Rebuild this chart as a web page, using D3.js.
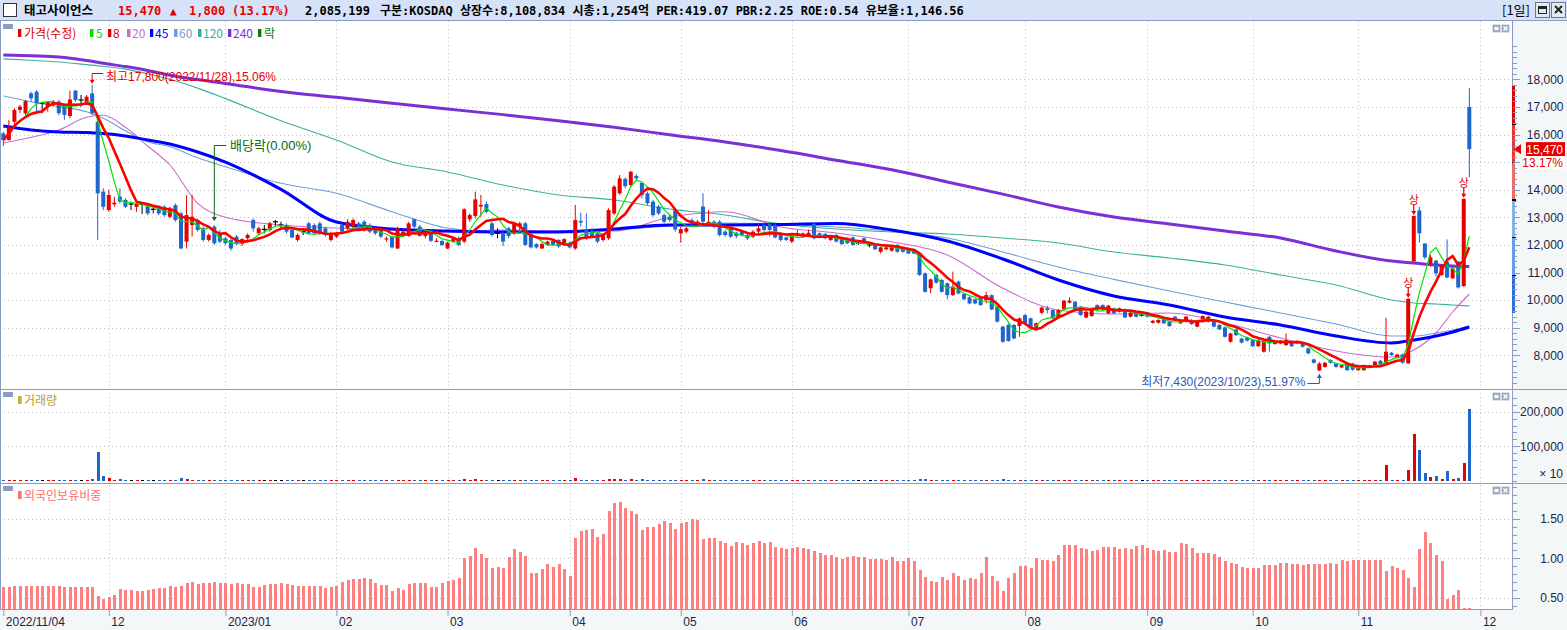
<!DOCTYPE html>
<html>
<head>
<meta charset="utf-8">
<title>태고사이언스</title>
<script src="https://cdn.jsdelivr.net/npm/d3@7"></script>
<style>
  html, body { margin: 0; padding: 0; background: #fff; }
  svg { display: block; }
</style>
</head>
<body>
<div id="chart"></div>
<script>
(function () {
  'use strict';

  // ---- data ----
  var monthIdx = [0, 19, 40, 60, 80, 102, 122, 142, 163, 184, 206, 225, 244, 266];
  var monthLabels = ['2022/11/04', '12', '2023/01', '02', '03', '04', '05', '06', '07', '08', '09', '10', '11', '12'];
  var priceTicks = [8000, 9000, 10000, 11000, 12000, 13000, 14000, 15000, 16000, 17000, 18000];
  var volTicks = [100000, 200000];
  var fgnTicks = [0.5, 1.0, 1.5];

  var opens = [
    16040,15800,16460,16890,16770,17490,17550,17130,17010,17070,17190,17070,16670,17590,17250,17130,17490,16460,13930,13260,
    13470,13750,13630,13480,13380,13470,13440,13290,13380,13380,13020,13440,13140,12120,12720,12900,12600,12180,12660,12420,
    12240,12180,12300,12030,12240,12900,12420,12560,12540,12840,12720,12720,12540,12180,12480,12780,12720,12780,12600,12180,
    12300,12720,12600,12660,12780,12840,12720,12600,12540,12200,12300,11870,12360,12320,12930,12660,12320,12520,12120,12140,
    11870,12120,12240,12120,12930,13050,13390,13480,12780,12420,12420,12600,12420,12660,12780,12390,12030,11870,12000,12140,
    12180,12030,12080,11870,12870,12540,12520,12420,12180,12240,13140,13870,14390,14170,14500,14250,13870,13570,13390,13080,
    13020,13260,12420,12480,12900,12780,13390,12720,12840,12840,12480,12600,12440,12480,12360,12300,12480,12720,12760,12720,
    12400,12270,12120,12320,12420,12320,12760,12420,12400,12180,12360,12240,12240,12270,12060,12240,12000,12000,11750,11840,
    11790,12000,11910,11870,11840,11690,10970,10430,10910,10730,10610,10180,10670,10220,10100,10030,10100,10000,10180,9760,
    9040,9100,9100,9060,9460,9340,8980,9540,9700,9640,9370,9660,9910,9940,9760,9370,9420,9820,9820,9520,
    9700,9580,9660,9400,9580,9460,9540,9180,9180,9340,9220,9400,9160,9220,9280,9040,9220,9220,9280,9100,
    9010,8490,8940,8610,8650,8550,8330,8130,8670,8410,8430,8370,8460,8430,8460,8250,7850,7450,7580,7830,
    7710,7560,7730,7700,7460,7460,7600,7650,7800,7710,8090,7920,8030,7710,11400,13250,12050,11330,11430,10910,
    11390,10790,11390,10510,17000
  ];
  var highs = [
    16100,16520,16950,17070,17250,17550,17610,17190,17210,17250,17250,17100,17590,17610,17430,17430,17800,16700,14050,13990,
    13750,14050,13690,13530,13570,13530,13500,13380,13440,13440,13380,13500,13200,13800,13810,12960,12660,12420,12720,12540,
    12300,12240,12360,12240,12420,12960,12660,12720,12840,12900,12840,12780,12600,12420,12540,12840,12780,12840,12660,12480,
    12480,12780,12930,12960,12840,12900,12780,12660,12600,12300,12330,12660,12540,12840,12960,12720,12540,12560,12240,12180,
    12120,12300,12300,13330,13140,13930,13810,13570,12840,12600,12480,12660,12840,12840,12840,12420,12060,12080,12150,12180,
    12210,12240,12120,13450,13170,13140,12600,12480,12420,13330,14170,14530,14450,14680,14560,14250,13930,13630,13450,13140,
    13080,13330,12660,12660,12960,12900,13870,13260,12900,12900,12540,12660,12480,12540,12420,12540,12720,12780,12800,12780,
    12420,12300,12360,12540,12450,12560,12800,12450,12420,12360,12390,12270,12270,12300,12100,12270,12090,12030,11940,11940,
    12000,12030,11940,11910,11870,11720,11000,10780,10940,10760,10640,11030,10700,10250,10130,10060,10130,10300,10210,9790,
    9070,9160,9130,9370,9490,9370,9190,9760,9790,9670,9670,10000,10100,9970,9790,9610,9730,9850,9850,9830,
    9730,9730,9700,9580,9610,9520,9570,9280,9310,9370,9250,9430,9310,9430,9310,9250,9450,9430,9310,9130,
    9040,8820,8970,8640,8680,8580,8580,8560,8700,8520,8560,8790,8490,8520,8490,8280,7880,7760,7760,7860,
    7740,7670,7760,7730,7590,7670,7650,7800,7830,9360,8120,8060,8060,10050,13050,13380,12060,11640,11460,11300,
    12200,11200,11420,13670,17680
  ];
  var lows = [
    15580,15780,16260,16770,16700,17190,16830,16770,16830,17010,16700,16530,16590,17190,17010,17070,16700,12180,13260,13200,
    13380,13500,13330,13260,13200,13120,13080,13140,13080,13020,12960,12840,11850,11870,12300,12480,12120,12120,12000,12060,
    12000,11790,12000,11960,12180,12480,12360,12420,12480,12660,12600,12420,12240,12120,12360,12360,12360,12360,12300,12120,
    12240,12420,12540,12600,12480,12480,12420,12360,12240,12120,11870,11850,12300,12300,12600,12300,12240,12100,12100,11960,
    11850,12080,11960,12060,12840,12960,13020,13140,12300,12240,11960,12240,12360,12540,11960,11870,11870,11850,11960,11960,
    11900,12000,11870,11820,12660,12180,12240,12060,12120,12180,13080,13810,14050,14110,14350,13690,13450,13020,13080,12780,
    12840,12480,12080,12420,12720,12720,12720,12660,12600,12300,12300,12240,12240,12300,12180,12240,12420,12480,12300,12240,
    12120,12140,12060,12300,12270,12300,12200,12240,12200,12140,12090,12000,12030,11970,12000,12030,11910,11810,11690,11810,
    11750,11720,11720,11660,11660,10880,10270,10250,10600,10270,10030,10150,10210,10000,9850,9850,9790,9880,9630,9190,
    8460,8490,8580,8670,9130,8980,8950,9490,9520,9310,9340,9640,9880,9630,9430,9340,9400,9630,9630,9490,
    9490,9550,9340,9370,9370,9400,9370,9150,9150,9130,9030,9250,9130,9190,9100,9010,9190,9190,9010,8910,
    8640,8460,8700,8430,8500,8300,8300,8100,8130,8380,8400,8340,8300,8400,8280,8040,7700,7430,7550,7700,
    7550,7530,7440,7440,7440,7440,7570,7620,7650,7680,7980,7890,7700,7680,11400,12080,11480,11210,10850,10880,
    10790,10760,10420,10480,14450
  ];
  var closes = [
    15800,16260,16890,17010,17210,17310,17130,17130,17190,17190,16770,16710,17270,17250,17250,17370,16770,13870,13380,13810,
    13530,13570,13380,13480,13500,13470,13140,13290,13140,13080,13290,12900,11870,13080,13020,12540,12180,12360,12060,12120,
    12060,11870,12060,12210,12360,12600,12600,12560,12780,12840,12720,12480,12270,12360,12480,12420,12420,12420,12360,12420,
    12440,12480,12840,12900,12510,12540,12480,12420,12300,12240,11910,12600,12480,12780,12660,12320,12480,12150,12150,12000,
    12080,12210,12000,13290,13080,13650,13450,13200,12360,12420,12120,12320,12780,12780,12000,11910,11910,12030,12120,12000,
    11940,12210,11910,12900,12810,12240,12320,12120,12360,13260,14110,14410,14130,14650,14410,13810,13510,13080,13140,12840,
    12900,12560,12570,12600,12780,12840,12840,12840,12660,12360,12360,12300,12320,12360,12240,12480,12600,12540,12540,12270,
    12180,12180,12320,12420,12300,12440,12240,12270,12240,12320,12120,12030,12060,12000,12060,12060,12000,11840,11910,11910,
    11960,11750,11750,11690,11690,10910,10300,10750,10630,10300,10180,10490,10240,10030,9880,9880,9820,10180,9660,9220,
    8490,8520,8610,9340,9160,9010,9160,9730,9640,9340,9640,9980,9980,9660,9460,9580,9700,9660,9660,9800,
    9520,9700,9370,9550,9400,9460,9400,9250,9280,9160,9060,9280,9280,9400,9130,9220,9420,9400,9040,8940,
    8670,8790,8730,8460,8530,8330,8550,8530,8430,8490,8530,8550,8330,8490,8310,8070,7730,7700,7730,7730,
    7580,7640,7460,7480,7560,7640,7620,7770,7680,8130,8010,8030,7730,10050,13050,12420,11550,11550,10970,11250,
    10820,11150,10460,13670,15470
  ];
  // volume, in units of 10 shares
  var volumes = [
    3200,2800,3500,3000,2600,2400,3100,1800,2200,2000,2500,2700,3000,2600,1900,2300,4200,84000,14000,8000,
    3200,5800,2500,1800,2400,1900,2600,1800,2400,2200,2600,3000,8700,5800,3400,2600,2800,2200,2600,2400,
    2300,2800,2500,2200,2000,2600,2100,1600,2000,1500,1500,2200,2400,2000,1500,2500,2300,2400,2200,2000,
    2100,2300,2600,2500,2200,2400,2200,2000,2100,1900,2600,3500,2200,2600,2400,2500,2100,2400,1900,2100,
    2000,2200,2300,6000,3500,5500,3800,3000,3600,1800,2600,2400,3200,2500,3500,2800,2000,1900,2100,2000,
    2200,2300,2100,7500,3400,3800,2600,2400,2200,5500,6500,5000,3500,4500,2800,4200,3400,3600,2600,2800,
    2400,3300,2600,2200,2300,2000,4500,2600,2200,2800,2200,2400,2000,2100,2000,2200,2100,2000,2300,2600,
    2100,1800,2000,1900,1800,1900,3200,1800,1700,1800,2000,1900,1800,1900,1500,1800,1500,1900,1800,1700,
    1800,1900,1700,1800,1800,5500,4800,3200,2600,2800,2600,3400,2400,2200,2000,1900,2100,2600,2800,3800,
    6000,3800,3200,3600,2400,2200,2000,3400,2200,2000,2400,3000,2600,2200,2400,2000,2200,1900,1800,2000,
    1900,1800,2000,1800,1900,1500,1800,1900,1700,1800,1900,1800,1700,1900,1800,1700,2000,1900,1800,2000,
    2600,2400,2000,2200,1800,2200,2000,2400,2600,1800,1800,2200,1900,1800,2000,2400,2600,3500,2200,1900,
    2000,1800,2200,2000,1800,1900,1700,2000,1800,46000,2500,2000,2500,31000,135000,89000,23000,10000,13000,6000,
    29000,6000,8000,52000,208520
  ];
  // foreign ownership ratio (%)
  var foreignRatio = [
    0.64,0.64,0.65,0.65,0.65,0.65,0.65,0.65,0.65,0.65,0.65,0.64,0.64,0.64,0.64,0.64,0.64,0.52,0.485,0.515,
    0.536,0.61,0.60,0.60,0.59,0.59,0.60,0.61,0.63,0.63,0.65,0.64,0.65,0.69,0.70,0.675,0.69,0.69,0.70,0.69,
    0.69,0.675,0.69,0.675,0.675,0.64,0.64,0.66,0.675,0.675,0.69,0.68,0.66,0.65,0.65,0.65,0.65,0.65,0.63,0.64,
    0.65,0.70,0.725,0.74,0.74,0.75,0.74,0.69,0.66,0.66,0.59,0.62,0.60,0.68,0.69,0.69,0.69,0.64,0.64,0.69,
    0.71,0.73,0.75,1.00,1.03,1.13,1.05,1.00,0.88,0.89,0.88,1.02,1.12,1.08,1.03,0.81,0.81,0.87,0.93,0.89,
    0.93,0.87,0.78,1.26,1.35,1.36,1.37,1.27,1.31,1.60,1.70,1.71,1.64,1.60,1.56,1.36,1.40,1.40,1.43,1.47,
    1.45,1.37,1.45,1.46,1.50,1.49,1.24,1.26,1.26,1.22,1.19,1.16,1.21,1.19,1.17,1.19,1.22,1.19,1.21,1.14,
    1.13,1.12,1.13,1.14,1.13,1.12,1.09,1.07,1.04,1.04,1.02,0.99,1.02,1.03,1.02,1.02,0.99,0.99,0.99,0.98,
    1.02,0.97,0.97,1.00,0.97,0.85,0.76,0.71,0.70,0.76,0.73,0.81,0.78,0.73,0.75,0.74,0.81,1.02,0.78,0.71,
    0.59,0.75,0.81,0.90,0.90,0.88,1.00,0.98,0.98,0.97,1.04,1.17,1.17,1.17,1.13,1.12,1.09,1.11,1.14,1.14,
    1.14,1.12,1.13,1.12,1.16,1.17,1.13,1.11,1.09,1.11,1.08,1.08,1.19,1.18,1.13,1.07,1.07,1.07,1.05,1.02,
    0.97,0.94,0.93,0.89,0.88,0.88,0.88,0.92,0.92,0.92,0.94,0.94,0.93,0.93,0.92,0.93,0.93,0.93,0.93,0.94,
    0.93,0.98,0.97,0.98,0.98,0.98,0.98,0.98,0.98,0.84,0.90,0.88,0.85,0.75,0.64,1.12,1.33,1.19,1.04,0.97,
    0.48,0.54,0.60,0.37,0.37
  ];

  // longer moving averages, read at these day indices
  var maIdx = [0,5,10,15,18,22,26,30,35,40,50,60,70,80,90,100,110,120,130,140,150,160,170,180,190,200,210,220,230,240,250,254,258,261,264];
  var ma20Vals = [15694,15898,16163,16623,16695,16260,15583,14895,13507,13000,12721,12612,12540,12467,12540,12500,12503,13000,13200,12650,12431,12116,11634,10430,9641,9497,9533,9171,8627,8156,7938,8192,8808,9569,10221];
  var ma45Vals = [16307,16163,16090,16072,16036,15945,15800,15655,15366,15003,14014,12830,12576,12503,12467,12467,12576,12721,12721,12739,12775,12540,12141,11489,10728,10149,9823,9388,9098,8699,8446,8554,8699,8844,9025];
  var ma60Vals = [17394,17188,17007,16826,16586,16137,15739,15558,15159,14833,14231,13869,13203,12610,12467,12467,12540,12685,12793,12750,12650,12500,12250,11743,11199,10750,10329,9931,9533,9134,8699,8699,8808,8917,9062];
  var ma120Vals = [18742,18690,18626,18530,18470,18370,18200,18000,17680,17300,16500,15800,15004,14644,14170,13808,13627,13300,13083,12757,12576,12467,12395,12250,12069,11743,11525,11272,10909,10547,10004,9895,9859,9822,9786];
  var ma240Vals = [18880,18850,18808,18680,18580,18460,18320,18150,17990,17850,17560,17350,17130,16920,16720,16500,16260,15990,15730,15420,15070,14720,14280,13840,13373,13011,12758,12503,12250,11779,11416,11344,11272,11235,11217];

  var limitUpIdx = [253, 254, 263];
  var sideBarEdges = [17750, 16380, 15000, 13630, 12280, 10900, 9530];
  var sideBarColors = ['#e20000', '#e83434', '#f06a6a', '#86b4ea', '#6a9ee2', '#2d6fd2'];

  // ---- layout ----
  var W = 1567, H = 630;
  var axisX = 1512.5;
  var red = '#e60000', blue = '#1f66cc', frame = '#8a9cc2', axisText = '#1c2448';

  var x = d3.scaleLinear().domain([0, 264]).range([3.3, 1469.3]);
  var yP = d3.scaleLinear().domain([8000, 18000]).range([355.3, 79.3]);
  var yV = d3.scaleLinear().domain([0, 200000]).range([480.9, 411.7]);
  var yF = d3.scaleLinear().domain([0.5, 1.5]).range([597.8, 518.8]);
  var fgnBottom = 609;

  var svg = d3.select('#chart').append('svg')
    .attr('width', W).attr('height', H)
    .style('font-family', '"Liberation Sans", "Noto Sans CJK KR", sans-serif');

  // backgrounds
  svg.append('rect').attr('width', W).attr('height', H).attr('fill', '#fff');
  svg.append('rect').attr('x', 1513).attr('y', 21).attr('width', 54).attr('height', 589).attr('fill', '#f4f7f8');
  svg.append('rect').attr('x', 0).attr('y', 610).attr('width', W).attr('height', 20).attr('fill', '#f4f7f8');
  svg.append('rect').attr('width', W).attr('height', 20).attr('fill', '#d6e2f8');

  svg.append('defs').append('clipPath').attr('id', 'pclip')
    .append('rect').attr('x', 0).attr('y', 21).attr('width', 1512).attr('height', 368);

  // grid
  var grid = svg.append('g')
    .attr('stroke', '#c2c2c2').attr('stroke-dasharray', '1,3').attr('shape-rendering', 'crispEdges');
  grid.selectAll('line.hp').data(priceTicks).join('line')
    .attr('x1', 0).attr('x2', 1512)
    .attr('y1', function (d) { return Math.round(yP(d)) + 0.5; })
    .attr('y2', function (d) { return Math.round(yP(d)) + 0.5; });
  grid.selectAll('line.hv').data(volTicks).join('line')
    .attr('x1', 0).attr('x2', 1512)
    .attr('y1', function (d) { return Math.round(yV(d)) + 0.5; })
    .attr('y2', function (d) { return Math.round(yV(d)) + 0.5; });
  grid.selectAll('line.hf').data(fgnTicks).join('line')
    .attr('x1', 0).attr('x2', 1512)
    .attr('y1', function (d) { return Math.round(yF(d)) + 0.5; })
    .attr('y2', function (d) { return Math.round(yF(d)) + 0.5; });
  grid.selectAll('line.vx').data(monthIdx.slice(1)).join('line')
    .attr('x1', function (d) { return Math.round(x(d)) + 0.5; })
    .attr('x2', function (d) { return Math.round(x(d)) + 0.5; })
    .attr('y1', 21).attr('y2', 609);

  // ---- price panel ----
  var days = d3.range(closes.length);
  function colorOf(i) {
    if (closes[i] > opens[i]) return red;
    if (closes[i] < opens[i]) return blue;
    return '#000';
  }
  function movingAvg(vals, n) {
    return vals.map(function (v, i) {
      return d3.mean(vals.slice(Math.max(0, i - n + 1), i + 1));
    });
  }
  var ma5 = movingAvg(closes, 5);
  var ma8 = movingAvg(closes, 8);

  var plot = svg.append('g').attr('clip-path', 'url(#pclip)');

  var sampled = d3.line()
    .x(function (d) { return x(d[0]); })
    .y(function (d) { return yP(d[1]); })
    .curve(d3.curveMonotoneX);
  var daily = d3.line()
    .x(function (d, i) { return x(i); })
    .y(function (d) { return yP(d); });

  [
    {vals: ma240Vals, color: '#7b2fd4', w: 3},
    {vals: ma120Vals, color: '#3bb09a', w: 1.1},
    {vals: ma60Vals, color: '#6f9fd6', w: 1.1},
    {vals: ma20Vals, color: '#cc6ccc', w: 1.1},
    {vals: ma45Vals, color: '#0000ff', w: 3}
  ].forEach(function (s) {
    plot.append('path')
      .datum(maIdx.map(function (d, k) { return [d, s.vals[k]]; }))
      .attr('d', sampled).attr('fill', 'none')
      .attr('stroke', s.color).attr('stroke-width', s.w);
  });

  // candles
  var cg = plot.append('g');
  cg.selectAll('line.wick').data(days).join('line')
    .attr('x1', function (i) { return x(i); }).attr('x2', function (i) { return x(i); })
    .attr('y1', function (i) { return yP(highs[i]); })
    .attr('y2', function (i) { return yP(lows[i]); })
    .attr('stroke', colorOf).attr('stroke-width', 1);
  cg.selectAll('rect.body').data(days).join('rect')
    .attr('x', function (i) { return x(i) - 2; })
    .attr('width', function (i) { return closes[i] === opens[i] ? 5 : 4; })
    .attr('y', function (i) { return yP(Math.max(opens[i], closes[i])); })
    .attr('height', function (i) { return Math.max(1.2, Math.abs(yP(opens[i]) - yP(closes[i]))); })
    .attr('transform', function (i) { return closes[i] === opens[i] ? 'translate(-0.5,-0.6)' : null; })
    .attr('fill', colorOf);

  plot.append('path').datum(ma5).attr('d', daily).attr('fill', 'none')
    .attr('stroke', '#00e400').attr('stroke-width', 1.2);
  plot.append('path').datum(ma8).attr('d', daily).attr('fill', 'none')
    .attr('stroke', '#ff0000').attr('stroke-width', 2.6);

  // limit-up markers
  var lu = svg.append('g');
  limitUpIdx.forEach(function (i) {
    var top = yP(highs[i]);
    lu.append('text').attr('x', x(i)).attr('y', top - 12).attr('text-anchor', 'middle')
      .attr('fill', red).style('font-size', '11px').text('상');
    lu.append('line').attr('x1', x(i)).attr('x2', x(i)).attr('y1', top - 11).attr('y2', top - 4)
      .attr('stroke', red).attr('stroke-width', 1.2);
    lu.append('path').attr('d', 'M' + (x(i) - 2.5) + ',' + (top - 5) + 'L' + (x(i) + 2.5) + ',' + (top - 5) + 'L' + x(i) + ',' + (top - 1) + 'Z')
      .attr('fill', red);
  });

  // annotations
  var ann = svg.append('g').style('font-size', '12px');
  var hiX = x(16), hiY = yP(highs[16]);
  ann.append('path').attr('d', 'M' + (hiX + 11) + ',73.5H' + hiX + 'V' + (hiY - 3))
    .attr('fill', 'none').attr('stroke', red);
  ann.append('path').attr('d', 'M' + (hiX - 2.5) + ',' + (hiY - 5) + 'L' + (hiX + 2.5) + ',' + (hiY - 5) + 'L' + hiX + ',' + (hiY - 1) + 'Z')
    .attr('fill', red);
  ann.append('text').attr('x', 106).attr('y', 81).attr('fill', red).text('최고17,800(2022/11/28),15.06%');

  var dvX = x(38), dvY = yP(highs[38]) - 5;
  ann.append('path').attr('d', 'M' + (dvX + 12) + ',145.5H' + dvX + 'V' + dvY)
    .attr('fill', 'none').attr('stroke', '#0a6a0a');
  ann.append('path').attr('d', 'M' + (dvX - 2.5) + ',' + (dvY - 3) + 'L' + (dvX + 2.5) + ',' + (dvY - 3) + 'L' + dvX + ',' + (dvY + 1) + 'Z')
    .attr('fill', '#0a6a0a');
  ann.append('text').attr('x', 230).attr('y', 150).attr('fill', '#0a6a0a').style('font-size', '13px').text('배당락(0.00%)');

  var loX = x(237), loY = yP(lows[237]) + 3;
  ann.append('path').attr('d', 'M' + (loX - 12) + ',383.5H' + loX + 'V' + loY)
    .attr('fill', 'none').attr('stroke', '#2a58b8');
  ann.append('path').attr('d', 'M' + (loX - 2.5) + ',' + (loY + 4) + 'L' + (loX + 2.5) + ',' + (loY + 4) + 'L' + loX + ',' + loY + 'Z')
    .attr('fill', '#2a58b8');
  ann.append('text').attr('x', loX - 14).attr('y', 386).attr('text-anchor', 'end')
    .attr('fill', '#2a58b8').text('최저7,430(2023/10/23),51.97%');

  // ---- volume panel ----
  var vg = svg.append('g').attr('shape-rendering', 'crispEdges');
  vg.selectAll('rect').data(days).join('rect')
    .attr('x', function (i) { return Math.round(x(i)) - 1; })
    .attr('width', 3)
    .attr('y', function (i) { return Math.min(yV(volumes[i]), yV(0) - 1); })
    .attr('height', function (i) { return Math.max(1, yV(0) - yV(volumes[i])); })
    .attr('fill', colorOf);

  // ---- foreign ownership panel ----
  var fg = svg.append('g').attr('shape-rendering', 'crispEdges');
  fg.selectAll('rect').data(days).join('rect')
    .attr('x', function (i) { return Math.round(x(i)) - 1; })
    .attr('width', 3.4)
    .attr('y', function (i) { return yF(foreignRatio[i]); })
    .attr('height', function (i) { return fgnBottom - yF(foreignRatio[i]); })
    .attr('fill', '#ff8080');

  // ---- frames ----
  var fr = svg.append('g').attr('stroke', frame).attr('shape-rendering', 'crispEdges');
  fr.append('line').attr('x1', 0).attr('x2', W).attr('y1', 20.5).attr('y2', 20.5);
  fr.append('line').attr('x1', 0).attr('x2', W).attr('y1', 389.5).attr('y2', 389.5);
  fr.append('line').attr('x1', 0).attr('x2', W).attr('y1', 483.5).attr('y2', 483.5);
  fr.append('line').attr('x1', 0).attr('x2', 1513).attr('y1', 609.5).attr('y2', 609.5);
  fr.append('line').attr('x1', axisX).attr('x2', axisX).attr('y1', 21).attr('y2', 610);
  fr.append('line').attr('x1', 0.5).attr('x2', 0.5).attr('y1', 21).attr('y2', 610);

  // right colour bar next to the price axis
  var sb = svg.append('g').attr('shape-rendering', 'crispEdges');
  sideBarColors.forEach(function (c, k) {
    var y0 = yP(sideBarEdges[k]), y1 = yP(sideBarEdges[k + 1]);
    sb.append('rect').attr('x', 1512).attr('y', y0).attr('width', 3).attr('height', y1 - y0).attr('fill', c);
    if (k > 0) sb.append('rect').attr('x', 1512).attr('y', y0 - 0.5).attr('width', 4).attr('height', 1.2).attr('fill', '#000');
  });

  // ---- axes ----
  var lastClose = closes[closes.length - 1];
  var lastY = yP(lastClose);
  function styleAxis(g) {
    g.select('.domain').remove();
    g.selectAll('line').attr('stroke', frame).attr('shape-rendering', 'crispEdges');
    g.selectAll('text').attr('x', 51).attr('text-anchor', 'end')
      .attr('fill', axisText).style('font-size', '12px');
  }
  function minorTicks(scale, vals, top, bottom) {
    svg.append('g').selectAll('line').data(vals.filter(function (v) {
      var yy = scale(v); return yy > top && yy < bottom;
    })).join('line')
      .attr('x1', axisX).attr('x2', axisX + 4)
      .attr('y1', function (v) { return Math.round(scale(v)) + 0.5; })
      .attr('y2', function (v) { return Math.round(scale(v)) + 0.5; })
      .attr('stroke', frame).attr('shape-rendering', 'crispEdges');
  }

  // the label hidden behind the last-price marker is left out, as in the original
  svg.append('g').attr('transform', 'translate(' + axisX + ',0)')
    .call(d3.axisRight(yP).tickValues(priceTicks).tickSize(7)
      .tickFormat(function (d) {
        var yy = yP(d);
        return (yy > lastY - 9 && yy < lastY + 22) ? '' : d3.format(',')(d);
      }))
    .call(styleAxis);
  minorTicks(yP, d3.range(6800, 19400, 200), 22, 388);

  svg.append('g').attr('transform', 'translate(' + axisX + ',0)')
    .call(d3.axisRight(yV).tickValues(volTicks).tickFormat(d3.format(',')).tickSize(7))
    .call(styleAxis);
  minorTicks(yV, d3.range(0, 300000, 20000), 391, 482);
  svg.append('text').attr('x', 1563).attr('y', 478).attr('text-anchor', 'end')
    .attr('fill', axisText).style('font-size', '12px').text('× 10');

  svg.append('g').attr('transform', 'translate(' + axisX + ',0)')
    .call(d3.axisRight(yF).tickValues(fgnTicks).tickFormat(d3.format('.2f')).tickSize(7))
    .call(styleAxis);
  minorTicks(yF, d3.range(0.3, 1.95, 0.1), 485, 608);

  var xa = svg.append('g').attr('transform', 'translate(0,610)')
    .call(d3.axisBottom(x).tickValues(monthIdx)
      .tickFormat(function (d, k) { return monthLabels[k]; }).tickSize(6));
  xa.select('.domain').remove();
  xa.selectAll('line').attr('stroke', frame);
  xa.selectAll('text').attr('text-anchor', 'start').attr('x', 2).attr('y', 7)
    .attr('fill', axisText).style('font-size', '12px');

  // last price marker
  svg.append('path').attr('d', 'M1514,' + lastY + 'L1521,' + (lastY - 5) + 'L1521,' + (lastY + 5) + 'Z').attr('fill', red);
  svg.append('rect').attr('x', 1526).attr('y', lastY - 7).attr('width', 39).attr('height', 14).attr('fill', red);
  svg.append('text').attr('x', 1563).attr('y', lastY + 4.5).attr('text-anchor', 'end')
    .attr('fill', '#fff').style('font-size', '12px').text(d3.format(',')(lastClose));
  svg.append('rect').attr('x', 1526).attr('y', lastY + 7).attr('width', 39).attr('height', 13).attr('fill', '#fff');
  svg.append('text').attr('x', 1563).attr('y', lastY + 18).attr('text-anchor', 'end')
    .attr('fill', red).style('font-size', '12px').text('13.17%');

  // ---- legends ----
  function marker(g, mx, my, color) {
    g.append('rect').attr('x', mx + 1).attr('y', my).attr('width', 3).attr('height', 8).attr('fill', '#c8c8c8');
    g.append('rect').attr('x', mx).attr('y', my).attr('width', 3).attr('height', 8).attr('fill', color);
  }
  function panelIcon(y) {
    svg.append('rect').attr('x', 3).attr('y', y).attr('width', 10).attr('height', 5).attr('fill', '#8a9cc2');
  }
  function panelButtons(y) {
    [1493, 1502].forEach(function (bx, k) {
      svg.append('rect').attr('x', bx).attr('y', y).attr('width', 7).attr('height', 7)
        .attr('fill', '#a4afc2').attr('stroke', '#8a96ac').attr('stroke-width', 0.6);
      if (k === 0) {
        svg.append('rect').attr('x', bx + 1.5).attr('y', y + 2).attr('width', 4).attr('height', 3).attr('fill', '#fff');
      } else {
        svg.append('path').attr('d', 'M' + (bx + 1.5) + ',' + (y + 1.5) + 'l4,4M' + (bx + 5.5) + ',' + (y + 1.5) + 'l-4,4')
          .attr('stroke', '#fff').attr('stroke-width', 1.2);
      }
    });
  }

  var lg = svg.append('g').style('font-size', '12px').style('font-family', '"Noto Sans CJK KR", sans-serif');
  panelIcon(24);
  [
    {mx: 18, tx: 24, c: '#e00000', t: '가격(수정)'},
    {mx: 90, tx: 96, c: '#00dd00', t: '5'},
    {mx: 108, tx: 113, c: '#e00000', t: '8'},
    {mx: 127, tx: 132, c: '#cc6ccc', t: '20'},
    {mx: 150, tx: 155, c: '#0000ff', t: '45'},
    {mx: 174, tx: 179, c: '#6f9fd6', t: '60'},
    {mx: 198, tx: 203, c: '#36ad98', t: '120'},
    {mx: 228, tx: 233, c: '#7b2fd4', t: '240'},
    {mx: 258, tx: 264, c: '#0a7a0a', t: '락'}
  ].forEach(function (d) {
    marker(lg, d.mx, 29, d.c);
    lg.append('text').attr('x', d.tx).attr('y', 37.5).attr('fill', d.c).text(d.t);
  });
  panelButtons(25);

  panelIcon(392);
  marker(lg, 18, 396, '#c8b030');
  lg.append('text').attr('x', 24).attr('y', 405).attr('fill', '#b8a028').text('거래량');
  panelButtons(393);

  panelIcon(486);
  marker(lg, 18, 491, '#ff7070');
  lg.append('text').attr('x', 24).attr('y', 500).attr('fill', '#ff7070').text('외국인보유비중');
  panelButtons(487);

  // ---- header ----
  var hd = svg.append('g').style('font-family', '"DejaVu Sans Mono", "Noto Sans CJK KR", monospace')
    .style('font-weight', 'bold').style('font-size', '12px');
  hd.append('rect').attr('x', 3.5).attr('y', 3.5).attr('width', 13).attr('height', 13)
    .attr('fill', '#fff').attr('stroke', '#333');
  hd.append('text').attr('x', 24).attr('y', 15).attr('fill', '#000').style('font-size', '12.5px').text('태고사이언스');
  hd.append('text').attr('x', 118).attr('y', 15).attr('fill', red).text('15,470');
  hd.append('text').attr('x', 170).attr('y', 15).attr('fill', red).style('font-size', '11px').text('▲');
  hd.append('text').attr('x', 189).attr('y', 15).attr('fill', red).text('1,800');
  hd.append('text').attr('x', 232).attr('y', 15).attr('fill', red).text('(13.17%)');
  hd.append('text').attr('x', 305).attr('y', 15).attr('fill', '#000').text('2,085,199');
  hd.append('text').attr('x', 380).attr('y', 15).attr('fill', '#000')
    .text('구분:KOSDAQ 상장수:8,108,834 시총:1,254억 PER:419.07 PBR:2.25 ROE:0.54 유보율:1,146.56');

  svg.append('text').attr('x', 1502).attr('y', 15).attr('fill', '#000')
    .style('font-size', '13px').style('font-family', '"Noto Sans CJK KR", sans-serif').text('[1일]');
  [1535, 1551].forEach(function (bx, k) {
    svg.append('rect').attr('x', bx + 0.5).attr('y', 2.5).attr('width', 14).attr('height', 15)
      .attr('fill', '#e4e8f0').attr('stroke', '#707888');
    if (k === 0) {
      svg.append('rect').attr('x', bx + 3.5).attr('y', 6.5).attr('width', 8).attr('height', 7)
        .attr('fill', 'none').attr('stroke', '#222');
      svg.append('rect').attr('x', bx + 3.5).attr('y', 6.5).attr('width', 8).attr('height', 2.5).attr('fill', '#222');
    } else {
      svg.append('path').attr('d', 'M' + (bx + 4) + ',6l7,7M' + (bx + 11) + ',6l-7,7')
        .attr('stroke', '#222').attr('stroke-width', 2);
    }
  });
}());
</script>
</body>
</html>
